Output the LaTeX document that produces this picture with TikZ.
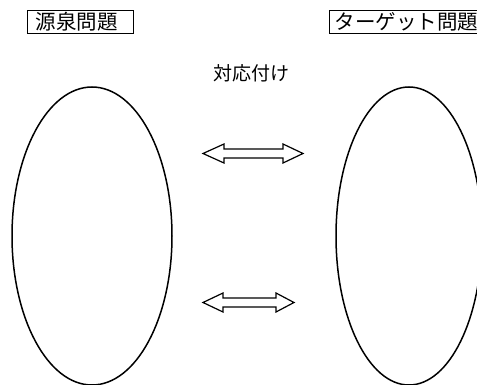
\documentclass[tikz,border=0pt]{standalone}
\usepackage{fontspec}
\newfontfamily\cjk{Noto Sans CJK JP}
\usetikzlibrary{shapes.geometric}
\begin{document}
\begin{tikzpicture}[x=1pt,y=-1pt,
  jp/.style={font=\cjk\fontsize{19}{19}\selectfont},
  boxfont/.style={font=\cjk\fontsize{20.5}{20.5}\selectfont},
  tagbox/.style={boxfont, draw, line width=1.1pt, minimum height=23pt, inner ysep=0pt,
                 anchor=north west, align=left},
  oval/.style={draw, line width=1.5pt, ellipse, inner sep=0pt},
  harrow/.style={draw, line width=1.2pt, line join=miter}]
\useasboundingbox (0,0) rectangle (477,385);
\clip (0,0) rectangle (477,385);

% title boxes
\node (srcbox) [tagbox, text width=90pt, inner xsep=8pt] at (27,10) {源泉問題};
\node (tgtbox) [tagbox, text width=160pt, inner xsep=5pt] at (329,10) {ターゲット問題};

% label
\node (corr) [jp, inner sep=0pt] at (251,73) {対応付け};

% ovals
\node (srcoval) [oval, minimum width=160pt, minimum height=298pt] at (92,236) {};
\node (tgtoval) [oval, minimum width=146pt, minimum height=298pt] at (409,236) {};

% hollow double arrows
\draw[harrow] (203,153.5) -- (224,144) -- (224,149) -- (283,149) -- (283,144)
  -- (303,153.5) -- (283,163) -- (283,158) -- (224,158) -- (224,163) -- cycle;
\draw[harrow] (203,302.5) -- (223,293) -- (223,298) -- (276,298) -- (276,293)
  -- (294,302.5) -- (276,312) -- (276,307) -- (223,307) -- (223,312) -- cycle;
\end{tikzpicture}
\end{document}
